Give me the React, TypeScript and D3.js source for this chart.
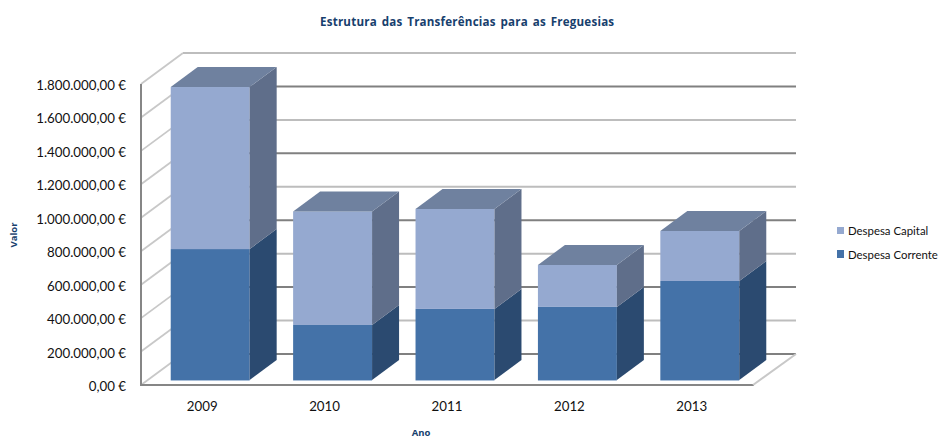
import React from "react";
import * as d3 from "d3";

const years = ["2009", "2010", "2011", "2012", "2013"];
const despesaCorrente = [783000, 329000, 425000, 437000, 592000];
const despesaCapital = [969000, 679000, 598000, 251000, 299000];
const ticks = [0, 200000, 400000, 600000, 800000, 1000000, 1200000, 1400000, 1600000, 1800000];
const tickLabels = ["0,00 €", "200.000,00 €", "400.000,00 €", "600.000,00 €", "800.000,00 €", "1.000.000,00 €", "1.200.000,00 €", "1.400.000,00 €", "1.600.000,00 €", "1.800.000,00 €"];

const FONT = "Lato, 'Open Sans', sans-serif";
const BOLD = "'Open Sans', sans-serif";
const NAVY = "#17406D";
const WALL = { dx: 42, dy: -31 };
const GAP = { dx: 8, dy: -5 };
const BAR = { dx: 27, dy: -20 };

export default function App() {
  const y = d3.scaleLinear().domain([0, 1800000]).range([385, 84]);
  const x = d3.scaleBand<string>().domain(years).range([141, 753]).paddingInner(0.355).paddingOuter(0.1775);
  const stack = years.map((yr, i) => ({ yr, a: despesaCorrente[i], b: despesaCorrente[i] + despesaCapital[i] }));
  const w = x.bandwidth();

  const seg = (yr: string, v0: number, v1: number, front: string, side: string, top: string | null) => {
    const l = x(yr)! + GAP.dx;
    const r = l + w;
    const t = y(v1) + GAP.dy;
    const b = y(v0) + GAP.dy;
    return (
      <g key={yr + v0}>
        <rect x={l} y={t} width={w} height={b - t} fill={front} />
        <polygon points={`${r},${t} ${r + BAR.dx},${t + BAR.dy} ${r + BAR.dx},${b + BAR.dy} ${r},${b}`} fill={side} />
        {top && <polygon points={`${l},${t} ${l + BAR.dx},${t + BAR.dy} ${r + BAR.dx},${t + BAR.dy} ${r},${t}`} fill={top} />}
      </g>
    );
  };

  return (
    <svg width={940} height={439} style={{ position: "absolute", left: 0, top: 0, background: "#fff" }} fontFamily={FONT}>
      <text x={320} y={26} fontFamily={BOLD} fontSize={11.6} fontWeight={700} fill={NAVY} wordSpacing={1.6} letterSpacing={0.2}>Estrutura das Transferências para as Freguesias</text>

      {ticks.map((t, i) => {
        const yy = y(t);
        return (
          <g key={t} fill="none">
            <line x1={141} y1={yy} x2={141 + WALL.dx} y2={yy + WALL.dy} stroke="#C8C8C8" strokeWidth={1.8} />
            <line x1={141 + WALL.dx} y1={yy + WALL.dy} x2={796} y2={yy + WALL.dy} stroke={i % 2 === 0 ? "#808080" : "#BDBDBD"} strokeWidth={2} />
            <text x={126} y={yy + 6} textAnchor="end" fontSize={13.3} fill="#111" stroke="none">{tickLabels[i]}</text>
          </g>
        );
      })}

      <line x1={141} y1={84} x2={141} y2={386} stroke="#868686" strokeWidth={2} />
      <line x1={140} y1={385} x2={754} y2={385} stroke="#868686" strokeWidth={2} />
      <line x1={753} y1={385} x2={796} y2={354} stroke="#C8C8C8" strokeWidth={2} />

      {stack.map(d => (
        <g key={d.yr}>
          {seg(d.yr, 0, d.a, "#4472A8", "#2B4A70", null)}
          {seg(d.yr, d.a, d.b, "#95A9D0", "#5F6E8A", "#6F819F")}
          <line x1={x(d.yr)! + GAP.dx} x2={x(d.yr)! + GAP.dx + w} y1={y(0) + GAP.dy + 0.5} y2={y(0) + GAP.dy + 0.5} stroke="#A9BFD9" strokeWidth={1} />
          <text x={x(d.yr)! + w / 2} y={411} textAnchor="middle" fontSize={13.3} fill="#111">{d.yr}</text>
        </g>
      ))}

      <text x={421} y={436} textAnchor="middle" fontFamily={BOLD} fontSize={9.5} fontWeight={700} fill={NAVY}>Ano</text>
      <text transform="translate(17,235) rotate(-90)" textAnchor="middle" fontFamily={BOLD} fontSize={9.5} fontWeight={700} fill={NAVY}>Valor</text>

      <rect x={837} y={227} width={7} height={7} fill="#95A9D0" />
      <text x={848} y={235} fontSize={11.4} fill="#111">Despesa Capital</text>
      <rect x={837} y={250} width={7} height={8} fill="#4472A8" />
      <text x={848} y={259} fontSize={11.4} fill="#111">Despesa Corrente</text>
    </svg>
  );
}
